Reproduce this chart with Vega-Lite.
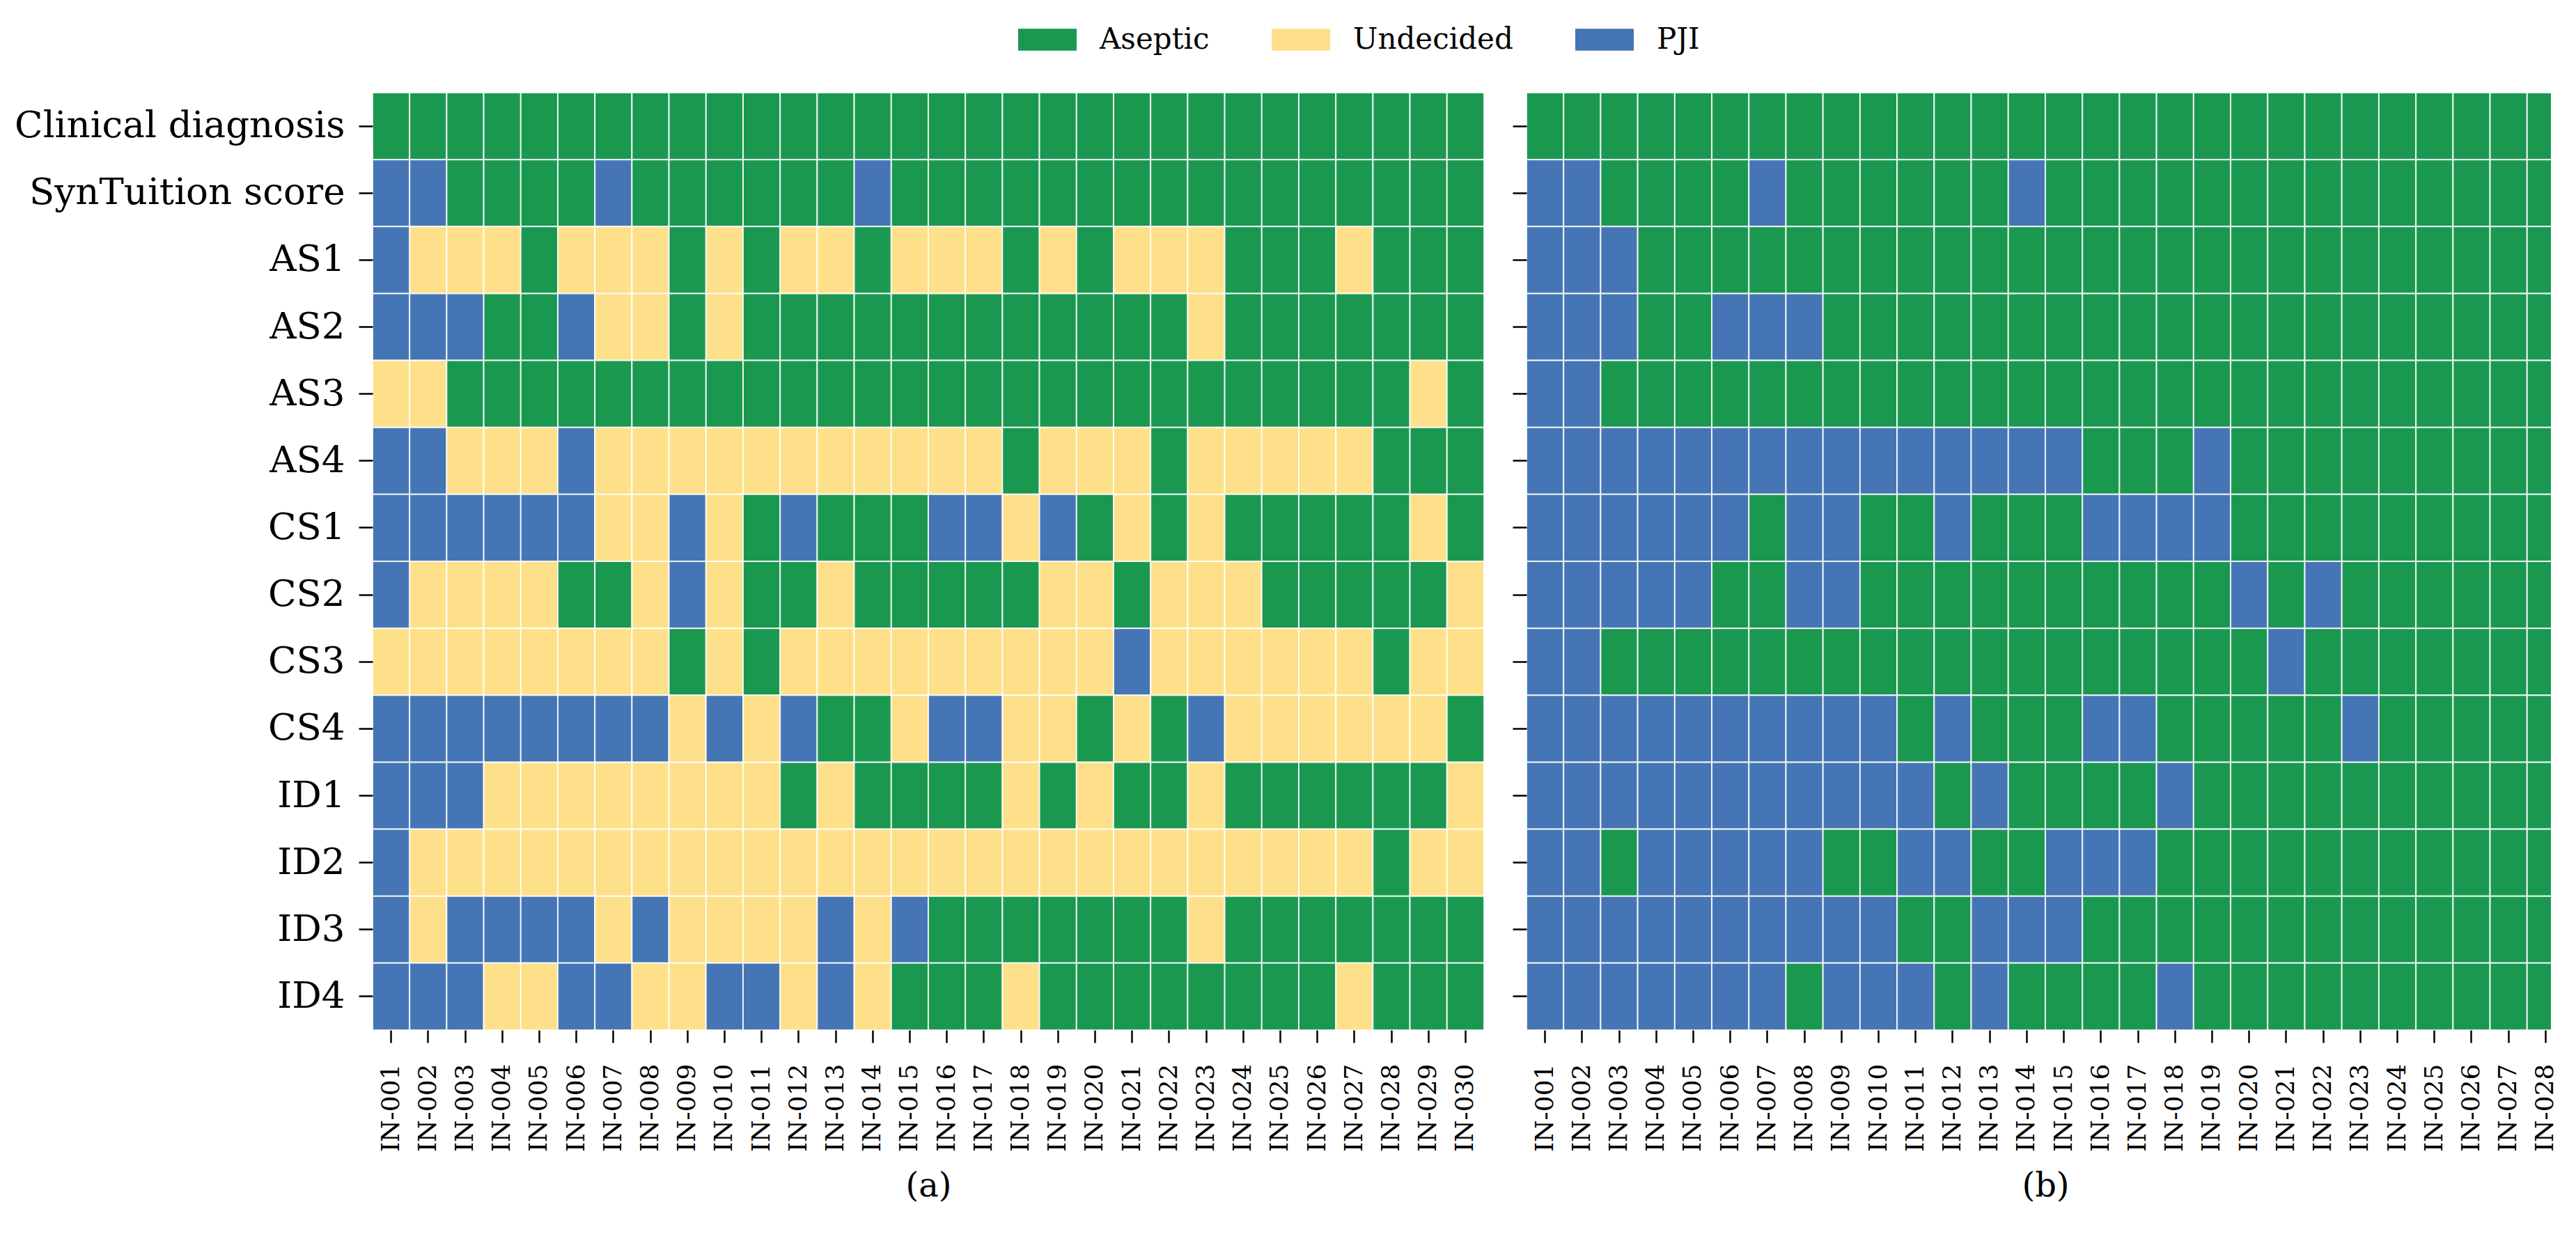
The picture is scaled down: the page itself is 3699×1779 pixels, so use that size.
{
"$schema": "https://vega.github.io/schema/vega-lite/v6.json",
"background": "white",
"padding": {"left": 20, "top": 13, "right": 0, "bottom": 0},
"spacing": 37,
"config": {
  "font": "DejaVu Serif",
  "view": {"stroke": null},
  "axis": {"domain": false, "tickColor": "black", "tickWidth": 2.5, "labelColor": "black", "labelFont": "DejaVu Serif", "titleFont": "DejaVu Serif", "titleFontWeight": "normal", "titleColor": "black", "grid": false}
},
"resolve": {"scale": {"x": "independent", "y": "independent", "color": "shared"}, "legend": {"color": "shared"}},
"datasets": {
"a": [
{"row":"Clinical diagnosis","id":"IN-001","dx":"Aseptic"},{"row":"Clinical diagnosis","id":"IN-002","dx":"Aseptic"},{"row":"Clinical diagnosis","id":"IN-003","dx":"Aseptic"},{"row":"Clinical diagnosis","id":"IN-004","dx":"Aseptic"},{"row":"Clinical diagnosis","id":"IN-005","dx":"Aseptic"},{"row":"Clinical diagnosis","id":"IN-006","dx":"Aseptic"},{"row":"Clinical diagnosis","id":"IN-007","dx":"Aseptic"},{"row":"Clinical diagnosis","id":"IN-008","dx":"Aseptic"},{"row":"Clinical diagnosis","id":"IN-009","dx":"Aseptic"},{"row":"Clinical diagnosis","id":"IN-010","dx":"Aseptic"},{"row":"Clinical diagnosis","id":"IN-011","dx":"Aseptic"},{"row":"Clinical diagnosis","id":"IN-012","dx":"Aseptic"},{"row":"Clinical diagnosis","id":"IN-013","dx":"Aseptic"},{"row":"Clinical diagnosis","id":"IN-014","dx":"Aseptic"},{"row":"Clinical diagnosis","id":"IN-015","dx":"Aseptic"},{"row":"Clinical diagnosis","id":"IN-016","dx":"Aseptic"},{"row":"Clinical diagnosis","id":"IN-017","dx":"Aseptic"},{"row":"Clinical diagnosis","id":"IN-018","dx":"Aseptic"},{"row":"Clinical diagnosis","id":"IN-019","dx":"Aseptic"},{"row":"Clinical diagnosis","id":"IN-020","dx":"Aseptic"},{"row":"Clinical diagnosis","id":"IN-021","dx":"Aseptic"},{"row":"Clinical diagnosis","id":"IN-022","dx":"Aseptic"},{"row":"Clinical diagnosis","id":"IN-023","dx":"Aseptic"},{"row":"Clinical diagnosis","id":"IN-024","dx":"Aseptic"},{"row":"Clinical diagnosis","id":"IN-025","dx":"Aseptic"},{"row":"Clinical diagnosis","id":"IN-026","dx":"Aseptic"},{"row":"Clinical diagnosis","id":"IN-027","dx":"Aseptic"},{"row":"Clinical diagnosis","id":"IN-028","dx":"Aseptic"},{"row":"Clinical diagnosis","id":"IN-029","dx":"Aseptic"},{"row":"Clinical diagnosis","id":"IN-030","dx":"Aseptic"},
{"row":"SynTuition score","id":"IN-001","dx":"PJI"},{"row":"SynTuition score","id":"IN-002","dx":"PJI"},{"row":"SynTuition score","id":"IN-003","dx":"Aseptic"},{"row":"SynTuition score","id":"IN-004","dx":"Aseptic"},{"row":"SynTuition score","id":"IN-005","dx":"Aseptic"},{"row":"SynTuition score","id":"IN-006","dx":"Aseptic"},{"row":"SynTuition score","id":"IN-007","dx":"PJI"},{"row":"SynTuition score","id":"IN-008","dx":"Aseptic"},{"row":"SynTuition score","id":"IN-009","dx":"Aseptic"},{"row":"SynTuition score","id":"IN-010","dx":"Aseptic"},{"row":"SynTuition score","id":"IN-011","dx":"Aseptic"},{"row":"SynTuition score","id":"IN-012","dx":"Aseptic"},{"row":"SynTuition score","id":"IN-013","dx":"Aseptic"},{"row":"SynTuition score","id":"IN-014","dx":"PJI"},{"row":"SynTuition score","id":"IN-015","dx":"Aseptic"},{"row":"SynTuition score","id":"IN-016","dx":"Aseptic"},{"row":"SynTuition score","id":"IN-017","dx":"Aseptic"},{"row":"SynTuition score","id":"IN-018","dx":"Aseptic"},{"row":"SynTuition score","id":"IN-019","dx":"Aseptic"},{"row":"SynTuition score","id":"IN-020","dx":"Aseptic"},{"row":"SynTuition score","id":"IN-021","dx":"Aseptic"},{"row":"SynTuition score","id":"IN-022","dx":"Aseptic"},{"row":"SynTuition score","id":"IN-023","dx":"Aseptic"},{"row":"SynTuition score","id":"IN-024","dx":"Aseptic"},{"row":"SynTuition score","id":"IN-025","dx":"Aseptic"},{"row":"SynTuition score","id":"IN-026","dx":"Aseptic"},{"row":"SynTuition score","id":"IN-027","dx":"Aseptic"},{"row":"SynTuition score","id":"IN-028","dx":"Aseptic"},{"row":"SynTuition score","id":"IN-029","dx":"Aseptic"},{"row":"SynTuition score","id":"IN-030","dx":"Aseptic"},
{"row":"AS1","id":"IN-001","dx":"PJI"},{"row":"AS1","id":"IN-002","dx":"Undecided"},{"row":"AS1","id":"IN-003","dx":"Undecided"},{"row":"AS1","id":"IN-004","dx":"Undecided"},{"row":"AS1","id":"IN-005","dx":"Aseptic"},{"row":"AS1","id":"IN-006","dx":"Undecided"},{"row":"AS1","id":"IN-007","dx":"Undecided"},{"row":"AS1","id":"IN-008","dx":"Undecided"},{"row":"AS1","id":"IN-009","dx":"Aseptic"},{"row":"AS1","id":"IN-010","dx":"Undecided"},{"row":"AS1","id":"IN-011","dx":"Aseptic"},{"row":"AS1","id":"IN-012","dx":"Undecided"},{"row":"AS1","id":"IN-013","dx":"Undecided"},{"row":"AS1","id":"IN-014","dx":"Aseptic"},{"row":"AS1","id":"IN-015","dx":"Undecided"},{"row":"AS1","id":"IN-016","dx":"Undecided"},{"row":"AS1","id":"IN-017","dx":"Undecided"},{"row":"AS1","id":"IN-018","dx":"Aseptic"},{"row":"AS1","id":"IN-019","dx":"Undecided"},{"row":"AS1","id":"IN-020","dx":"Aseptic"},{"row":"AS1","id":"IN-021","dx":"Undecided"},{"row":"AS1","id":"IN-022","dx":"Undecided"},{"row":"AS1","id":"IN-023","dx":"Undecided"},{"row":"AS1","id":"IN-024","dx":"Aseptic"},{"row":"AS1","id":"IN-025","dx":"Aseptic"},{"row":"AS1","id":"IN-026","dx":"Aseptic"},{"row":"AS1","id":"IN-027","dx":"Undecided"},{"row":"AS1","id":"IN-028","dx":"Aseptic"},{"row":"AS1","id":"IN-029","dx":"Aseptic"},{"row":"AS1","id":"IN-030","dx":"Aseptic"},
{"row":"AS2","id":"IN-001","dx":"PJI"},{"row":"AS2","id":"IN-002","dx":"PJI"},{"row":"AS2","id":"IN-003","dx":"PJI"},{"row":"AS2","id":"IN-004","dx":"Aseptic"},{"row":"AS2","id":"IN-005","dx":"Aseptic"},{"row":"AS2","id":"IN-006","dx":"PJI"},{"row":"AS2","id":"IN-007","dx":"Undecided"},{"row":"AS2","id":"IN-008","dx":"Undecided"},{"row":"AS2","id":"IN-009","dx":"Aseptic"},{"row":"AS2","id":"IN-010","dx":"Undecided"},{"row":"AS2","id":"IN-011","dx":"Aseptic"},{"row":"AS2","id":"IN-012","dx":"Aseptic"},{"row":"AS2","id":"IN-013","dx":"Aseptic"},{"row":"AS2","id":"IN-014","dx":"Aseptic"},{"row":"AS2","id":"IN-015","dx":"Aseptic"},{"row":"AS2","id":"IN-016","dx":"Aseptic"},{"row":"AS2","id":"IN-017","dx":"Aseptic"},{"row":"AS2","id":"IN-018","dx":"Aseptic"},{"row":"AS2","id":"IN-019","dx":"Aseptic"},{"row":"AS2","id":"IN-020","dx":"Aseptic"},{"row":"AS2","id":"IN-021","dx":"Aseptic"},{"row":"AS2","id":"IN-022","dx":"Aseptic"},{"row":"AS2","id":"IN-023","dx":"Undecided"},{"row":"AS2","id":"IN-024","dx":"Aseptic"},{"row":"AS2","id":"IN-025","dx":"Aseptic"},{"row":"AS2","id":"IN-026","dx":"Aseptic"},{"row":"AS2","id":"IN-027","dx":"Aseptic"},{"row":"AS2","id":"IN-028","dx":"Aseptic"},{"row":"AS2","id":"IN-029","dx":"Aseptic"},{"row":"AS2","id":"IN-030","dx":"Aseptic"},
{"row":"AS3","id":"IN-001","dx":"Undecided"},{"row":"AS3","id":"IN-002","dx":"Undecided"},{"row":"AS3","id":"IN-003","dx":"Aseptic"},{"row":"AS3","id":"IN-004","dx":"Aseptic"},{"row":"AS3","id":"IN-005","dx":"Aseptic"},{"row":"AS3","id":"IN-006","dx":"Aseptic"},{"row":"AS3","id":"IN-007","dx":"Aseptic"},{"row":"AS3","id":"IN-008","dx":"Aseptic"},{"row":"AS3","id":"IN-009","dx":"Aseptic"},{"row":"AS3","id":"IN-010","dx":"Aseptic"},{"row":"AS3","id":"IN-011","dx":"Aseptic"},{"row":"AS3","id":"IN-012","dx":"Aseptic"},{"row":"AS3","id":"IN-013","dx":"Aseptic"},{"row":"AS3","id":"IN-014","dx":"Aseptic"},{"row":"AS3","id":"IN-015","dx":"Aseptic"},{"row":"AS3","id":"IN-016","dx":"Aseptic"},{"row":"AS3","id":"IN-017","dx":"Aseptic"},{"row":"AS3","id":"IN-018","dx":"Aseptic"},{"row":"AS3","id":"IN-019","dx":"Aseptic"},{"row":"AS3","id":"IN-020","dx":"Aseptic"},{"row":"AS3","id":"IN-021","dx":"Aseptic"},{"row":"AS3","id":"IN-022","dx":"Aseptic"},{"row":"AS3","id":"IN-023","dx":"Aseptic"},{"row":"AS3","id":"IN-024","dx":"Aseptic"},{"row":"AS3","id":"IN-025","dx":"Aseptic"},{"row":"AS3","id":"IN-026","dx":"Aseptic"},{"row":"AS3","id":"IN-027","dx":"Aseptic"},{"row":"AS3","id":"IN-028","dx":"Aseptic"},{"row":"AS3","id":"IN-029","dx":"Undecided"},{"row":"AS3","id":"IN-030","dx":"Aseptic"},
{"row":"AS4","id":"IN-001","dx":"PJI"},{"row":"AS4","id":"IN-002","dx":"PJI"},{"row":"AS4","id":"IN-003","dx":"Undecided"},{"row":"AS4","id":"IN-004","dx":"Undecided"},{"row":"AS4","id":"IN-005","dx":"Undecided"},{"row":"AS4","id":"IN-006","dx":"PJI"},{"row":"AS4","id":"IN-007","dx":"Undecided"},{"row":"AS4","id":"IN-008","dx":"Undecided"},{"row":"AS4","id":"IN-009","dx":"Undecided"},{"row":"AS4","id":"IN-010","dx":"Undecided"},{"row":"AS4","id":"IN-011","dx":"Undecided"},{"row":"AS4","id":"IN-012","dx":"Undecided"},{"row":"AS4","id":"IN-013","dx":"Undecided"},{"row":"AS4","id":"IN-014","dx":"Undecided"},{"row":"AS4","id":"IN-015","dx":"Undecided"},{"row":"AS4","id":"IN-016","dx":"Undecided"},{"row":"AS4","id":"IN-017","dx":"Undecided"},{"row":"AS4","id":"IN-018","dx":"Aseptic"},{"row":"AS4","id":"IN-019","dx":"Undecided"},{"row":"AS4","id":"IN-020","dx":"Undecided"},{"row":"AS4","id":"IN-021","dx":"Undecided"},{"row":"AS4","id":"IN-022","dx":"Aseptic"},{"row":"AS4","id":"IN-023","dx":"Undecided"},{"row":"AS4","id":"IN-024","dx":"Undecided"},{"row":"AS4","id":"IN-025","dx":"Undecided"},{"row":"AS4","id":"IN-026","dx":"Undecided"},{"row":"AS4","id":"IN-027","dx":"Undecided"},{"row":"AS4","id":"IN-028","dx":"Aseptic"},{"row":"AS4","id":"IN-029","dx":"Aseptic"},{"row":"AS4","id":"IN-030","dx":"Aseptic"},
{"row":"CS1","id":"IN-001","dx":"PJI"},{"row":"CS1","id":"IN-002","dx":"PJI"},{"row":"CS1","id":"IN-003","dx":"PJI"},{"row":"CS1","id":"IN-004","dx":"PJI"},{"row":"CS1","id":"IN-005","dx":"PJI"},{"row":"CS1","id":"IN-006","dx":"PJI"},{"row":"CS1","id":"IN-007","dx":"Undecided"},{"row":"CS1","id":"IN-008","dx":"Undecided"},{"row":"CS1","id":"IN-009","dx":"PJI"},{"row":"CS1","id":"IN-010","dx":"Undecided"},{"row":"CS1","id":"IN-011","dx":"Aseptic"},{"row":"CS1","id":"IN-012","dx":"PJI"},{"row":"CS1","id":"IN-013","dx":"Aseptic"},{"row":"CS1","id":"IN-014","dx":"Aseptic"},{"row":"CS1","id":"IN-015","dx":"Aseptic"},{"row":"CS1","id":"IN-016","dx":"PJI"},{"row":"CS1","id":"IN-017","dx":"PJI"},{"row":"CS1","id":"IN-018","dx":"Undecided"},{"row":"CS1","id":"IN-019","dx":"PJI"},{"row":"CS1","id":"IN-020","dx":"Aseptic"},{"row":"CS1","id":"IN-021","dx":"Undecided"},{"row":"CS1","id":"IN-022","dx":"Aseptic"},{"row":"CS1","id":"IN-023","dx":"Undecided"},{"row":"CS1","id":"IN-024","dx":"Aseptic"},{"row":"CS1","id":"IN-025","dx":"Aseptic"},{"row":"CS1","id":"IN-026","dx":"Aseptic"},{"row":"CS1","id":"IN-027","dx":"Aseptic"},{"row":"CS1","id":"IN-028","dx":"Aseptic"},{"row":"CS1","id":"IN-029","dx":"Undecided"},{"row":"CS1","id":"IN-030","dx":"Aseptic"},
{"row":"CS2","id":"IN-001","dx":"PJI"},{"row":"CS2","id":"IN-002","dx":"Undecided"},{"row":"CS2","id":"IN-003","dx":"Undecided"},{"row":"CS2","id":"IN-004","dx":"Undecided"},{"row":"CS2","id":"IN-005","dx":"Undecided"},{"row":"CS2","id":"IN-006","dx":"Aseptic"},{"row":"CS2","id":"IN-007","dx":"Aseptic"},{"row":"CS2","id":"IN-008","dx":"Undecided"},{"row":"CS2","id":"IN-009","dx":"PJI"},{"row":"CS2","id":"IN-010","dx":"Undecided"},{"row":"CS2","id":"IN-011","dx":"Aseptic"},{"row":"CS2","id":"IN-012","dx":"Aseptic"},{"row":"CS2","id":"IN-013","dx":"Undecided"},{"row":"CS2","id":"IN-014","dx":"Aseptic"},{"row":"CS2","id":"IN-015","dx":"Aseptic"},{"row":"CS2","id":"IN-016","dx":"Aseptic"},{"row":"CS2","id":"IN-017","dx":"Aseptic"},{"row":"CS2","id":"IN-018","dx":"Aseptic"},{"row":"CS2","id":"IN-019","dx":"Undecided"},{"row":"CS2","id":"IN-020","dx":"Undecided"},{"row":"CS2","id":"IN-021","dx":"Aseptic"},{"row":"CS2","id":"IN-022","dx":"Undecided"},{"row":"CS2","id":"IN-023","dx":"Undecided"},{"row":"CS2","id":"IN-024","dx":"Undecided"},{"row":"CS2","id":"IN-025","dx":"Aseptic"},{"row":"CS2","id":"IN-026","dx":"Aseptic"},{"row":"CS2","id":"IN-027","dx":"Aseptic"},{"row":"CS2","id":"IN-028","dx":"Aseptic"},{"row":"CS2","id":"IN-029","dx":"Aseptic"},{"row":"CS2","id":"IN-030","dx":"Undecided"},
{"row":"CS3","id":"IN-001","dx":"Undecided"},{"row":"CS3","id":"IN-002","dx":"Undecided"},{"row":"CS3","id":"IN-003","dx":"Undecided"},{"row":"CS3","id":"IN-004","dx":"Undecided"},{"row":"CS3","id":"IN-005","dx":"Undecided"},{"row":"CS3","id":"IN-006","dx":"Undecided"},{"row":"CS3","id":"IN-007","dx":"Undecided"},{"row":"CS3","id":"IN-008","dx":"Undecided"},{"row":"CS3","id":"IN-009","dx":"Aseptic"},{"row":"CS3","id":"IN-010","dx":"Undecided"},{"row":"CS3","id":"IN-011","dx":"Aseptic"},{"row":"CS3","id":"IN-012","dx":"Undecided"},{"row":"CS3","id":"IN-013","dx":"Undecided"},{"row":"CS3","id":"IN-014","dx":"Undecided"},{"row":"CS3","id":"IN-015","dx":"Undecided"},{"row":"CS3","id":"IN-016","dx":"Undecided"},{"row":"CS3","id":"IN-017","dx":"Undecided"},{"row":"CS3","id":"IN-018","dx":"Undecided"},{"row":"CS3","id":"IN-019","dx":"Undecided"},{"row":"CS3","id":"IN-020","dx":"Undecided"},{"row":"CS3","id":"IN-021","dx":"PJI"},{"row":"CS3","id":"IN-022","dx":"Undecided"},{"row":"CS3","id":"IN-023","dx":"Undecided"},{"row":"CS3","id":"IN-024","dx":"Undecided"},{"row":"CS3","id":"IN-025","dx":"Undecided"},{"row":"CS3","id":"IN-026","dx":"Undecided"},{"row":"CS3","id":"IN-027","dx":"Undecided"},{"row":"CS3","id":"IN-028","dx":"Aseptic"},{"row":"CS3","id":"IN-029","dx":"Undecided"},{"row":"CS3","id":"IN-030","dx":"Undecided"},
{"row":"CS4","id":"IN-001","dx":"PJI"},{"row":"CS4","id":"IN-002","dx":"PJI"},{"row":"CS4","id":"IN-003","dx":"PJI"},{"row":"CS4","id":"IN-004","dx":"PJI"},{"row":"CS4","id":"IN-005","dx":"PJI"},{"row":"CS4","id":"IN-006","dx":"PJI"},{"row":"CS4","id":"IN-007","dx":"PJI"},{"row":"CS4","id":"IN-008","dx":"PJI"},{"row":"CS4","id":"IN-009","dx":"Undecided"},{"row":"CS4","id":"IN-010","dx":"PJI"},{"row":"CS4","id":"IN-011","dx":"Undecided"},{"row":"CS4","id":"IN-012","dx":"PJI"},{"row":"CS4","id":"IN-013","dx":"Aseptic"},{"row":"CS4","id":"IN-014","dx":"Aseptic"},{"row":"CS4","id":"IN-015","dx":"Undecided"},{"row":"CS4","id":"IN-016","dx":"PJI"},{"row":"CS4","id":"IN-017","dx":"PJI"},{"row":"CS4","id":"IN-018","dx":"Undecided"},{"row":"CS4","id":"IN-019","dx":"Undecided"},{"row":"CS4","id":"IN-020","dx":"Aseptic"},{"row":"CS4","id":"IN-021","dx":"Undecided"},{"row":"CS4","id":"IN-022","dx":"Aseptic"},{"row":"CS4","id":"IN-023","dx":"PJI"},{"row":"CS4","id":"IN-024","dx":"Undecided"},{"row":"CS4","id":"IN-025","dx":"Undecided"},{"row":"CS4","id":"IN-026","dx":"Undecided"},{"row":"CS4","id":"IN-027","dx":"Undecided"},{"row":"CS4","id":"IN-028","dx":"Undecided"},{"row":"CS4","id":"IN-029","dx":"Undecided"},{"row":"CS4","id":"IN-030","dx":"Aseptic"},
{"row":"ID1","id":"IN-001","dx":"PJI"},{"row":"ID1","id":"IN-002","dx":"PJI"},{"row":"ID1","id":"IN-003","dx":"PJI"},{"row":"ID1","id":"IN-004","dx":"Undecided"},{"row":"ID1","id":"IN-005","dx":"Undecided"},{"row":"ID1","id":"IN-006","dx":"Undecided"},{"row":"ID1","id":"IN-007","dx":"Undecided"},{"row":"ID1","id":"IN-008","dx":"Undecided"},{"row":"ID1","id":"IN-009","dx":"Undecided"},{"row":"ID1","id":"IN-010","dx":"Undecided"},{"row":"ID1","id":"IN-011","dx":"Undecided"},{"row":"ID1","id":"IN-012","dx":"Aseptic"},{"row":"ID1","id":"IN-013","dx":"Undecided"},{"row":"ID1","id":"IN-014","dx":"Aseptic"},{"row":"ID1","id":"IN-015","dx":"Aseptic"},{"row":"ID1","id":"IN-016","dx":"Aseptic"},{"row":"ID1","id":"IN-017","dx":"Aseptic"},{"row":"ID1","id":"IN-018","dx":"Undecided"},{"row":"ID1","id":"IN-019","dx":"Aseptic"},{"row":"ID1","id":"IN-020","dx":"Undecided"},{"row":"ID1","id":"IN-021","dx":"Aseptic"},{"row":"ID1","id":"IN-022","dx":"Aseptic"},{"row":"ID1","id":"IN-023","dx":"Undecided"},{"row":"ID1","id":"IN-024","dx":"Aseptic"},{"row":"ID1","id":"IN-025","dx":"Aseptic"},{"row":"ID1","id":"IN-026","dx":"Aseptic"},{"row":"ID1","id":"IN-027","dx":"Aseptic"},{"row":"ID1","id":"IN-028","dx":"Aseptic"},{"row":"ID1","id":"IN-029","dx":"Aseptic"},{"row":"ID1","id":"IN-030","dx":"Undecided"},
{"row":"ID2","id":"IN-001","dx":"PJI"},{"row":"ID2","id":"IN-002","dx":"Undecided"},{"row":"ID2","id":"IN-003","dx":"Undecided"},{"row":"ID2","id":"IN-004","dx":"Undecided"},{"row":"ID2","id":"IN-005","dx":"Undecided"},{"row":"ID2","id":"IN-006","dx":"Undecided"},{"row":"ID2","id":"IN-007","dx":"Undecided"},{"row":"ID2","id":"IN-008","dx":"Undecided"},{"row":"ID2","id":"IN-009","dx":"Undecided"},{"row":"ID2","id":"IN-010","dx":"Undecided"},{"row":"ID2","id":"IN-011","dx":"Undecided"},{"row":"ID2","id":"IN-012","dx":"Undecided"},{"row":"ID2","id":"IN-013","dx":"Undecided"},{"row":"ID2","id":"IN-014","dx":"Undecided"},{"row":"ID2","id":"IN-015","dx":"Undecided"},{"row":"ID2","id":"IN-016","dx":"Undecided"},{"row":"ID2","id":"IN-017","dx":"Undecided"},{"row":"ID2","id":"IN-018","dx":"Undecided"},{"row":"ID2","id":"IN-019","dx":"Undecided"},{"row":"ID2","id":"IN-020","dx":"Undecided"},{"row":"ID2","id":"IN-021","dx":"Undecided"},{"row":"ID2","id":"IN-022","dx":"Undecided"},{"row":"ID2","id":"IN-023","dx":"Undecided"},{"row":"ID2","id":"IN-024","dx":"Undecided"},{"row":"ID2","id":"IN-025","dx":"Undecided"},{"row":"ID2","id":"IN-026","dx":"Undecided"},{"row":"ID2","id":"IN-027","dx":"Undecided"},{"row":"ID2","id":"IN-028","dx":"Aseptic"},{"row":"ID2","id":"IN-029","dx":"Undecided"},{"row":"ID2","id":"IN-030","dx":"Undecided"},
{"row":"ID3","id":"IN-001","dx":"PJI"},{"row":"ID3","id":"IN-002","dx":"Undecided"},{"row":"ID3","id":"IN-003","dx":"PJI"},{"row":"ID3","id":"IN-004","dx":"PJI"},{"row":"ID3","id":"IN-005","dx":"PJI"},{"row":"ID3","id":"IN-006","dx":"PJI"},{"row":"ID3","id":"IN-007","dx":"Undecided"},{"row":"ID3","id":"IN-008","dx":"PJI"},{"row":"ID3","id":"IN-009","dx":"Undecided"},{"row":"ID3","id":"IN-010","dx":"Undecided"},{"row":"ID3","id":"IN-011","dx":"Undecided"},{"row":"ID3","id":"IN-012","dx":"Undecided"},{"row":"ID3","id":"IN-013","dx":"PJI"},{"row":"ID3","id":"IN-014","dx":"Undecided"},{"row":"ID3","id":"IN-015","dx":"PJI"},{"row":"ID3","id":"IN-016","dx":"Aseptic"},{"row":"ID3","id":"IN-017","dx":"Aseptic"},{"row":"ID3","id":"IN-018","dx":"Aseptic"},{"row":"ID3","id":"IN-019","dx":"Aseptic"},{"row":"ID3","id":"IN-020","dx":"Aseptic"},{"row":"ID3","id":"IN-021","dx":"Aseptic"},{"row":"ID3","id":"IN-022","dx":"Aseptic"},{"row":"ID3","id":"IN-023","dx":"Undecided"},{"row":"ID3","id":"IN-024","dx":"Aseptic"},{"row":"ID3","id":"IN-025","dx":"Aseptic"},{"row":"ID3","id":"IN-026","dx":"Aseptic"},{"row":"ID3","id":"IN-027","dx":"Aseptic"},{"row":"ID3","id":"IN-028","dx":"Aseptic"},{"row":"ID3","id":"IN-029","dx":"Aseptic"},{"row":"ID3","id":"IN-030","dx":"Aseptic"},
{"row":"ID4","id":"IN-001","dx":"PJI"},{"row":"ID4","id":"IN-002","dx":"PJI"},{"row":"ID4","id":"IN-003","dx":"PJI"},{"row":"ID4","id":"IN-004","dx":"Undecided"},{"row":"ID4","id":"IN-005","dx":"Undecided"},{"row":"ID4","id":"IN-006","dx":"PJI"},{"row":"ID4","id":"IN-007","dx":"PJI"},{"row":"ID4","id":"IN-008","dx":"Undecided"},{"row":"ID4","id":"IN-009","dx":"Undecided"},{"row":"ID4","id":"IN-010","dx":"PJI"},{"row":"ID4","id":"IN-011","dx":"PJI"},{"row":"ID4","id":"IN-012","dx":"Undecided"},{"row":"ID4","id":"IN-013","dx":"PJI"},{"row":"ID4","id":"IN-014","dx":"Undecided"},{"row":"ID4","id":"IN-015","dx":"Aseptic"},{"row":"ID4","id":"IN-016","dx":"Aseptic"},{"row":"ID4","id":"IN-017","dx":"Aseptic"},{"row":"ID4","id":"IN-018","dx":"Undecided"},{"row":"ID4","id":"IN-019","dx":"Aseptic"},{"row":"ID4","id":"IN-020","dx":"Aseptic"},{"row":"ID4","id":"IN-021","dx":"Aseptic"},{"row":"ID4","id":"IN-022","dx":"Aseptic"},{"row":"ID4","id":"IN-023","dx":"Aseptic"},{"row":"ID4","id":"IN-024","dx":"Aseptic"},{"row":"ID4","id":"IN-025","dx":"Aseptic"},{"row":"ID4","id":"IN-026","dx":"Aseptic"},{"row":"ID4","id":"IN-027","dx":"Undecided"},{"row":"ID4","id":"IN-028","dx":"Aseptic"},{"row":"ID4","id":"IN-029","dx":"Aseptic"},{"row":"ID4","id":"IN-030","dx":"Aseptic"}
],
"b": [
{"row":"Clinical diagnosis","id":"IN-001","dx":"Aseptic"},{"row":"Clinical diagnosis","id":"IN-002","dx":"Aseptic"},{"row":"Clinical diagnosis","id":"IN-003","dx":"Aseptic"},{"row":"Clinical diagnosis","id":"IN-004","dx":"Aseptic"},{"row":"Clinical diagnosis","id":"IN-005","dx":"Aseptic"},{"row":"Clinical diagnosis","id":"IN-006","dx":"Aseptic"},{"row":"Clinical diagnosis","id":"IN-007","dx":"Aseptic"},{"row":"Clinical diagnosis","id":"IN-008","dx":"Aseptic"},{"row":"Clinical diagnosis","id":"IN-009","dx":"Aseptic"},{"row":"Clinical diagnosis","id":"IN-010","dx":"Aseptic"},{"row":"Clinical diagnosis","id":"IN-011","dx":"Aseptic"},{"row":"Clinical diagnosis","id":"IN-012","dx":"Aseptic"},{"row":"Clinical diagnosis","id":"IN-013","dx":"Aseptic"},{"row":"Clinical diagnosis","id":"IN-014","dx":"Aseptic"},{"row":"Clinical diagnosis","id":"IN-015","dx":"Aseptic"},{"row":"Clinical diagnosis","id":"IN-016","dx":"Aseptic"},{"row":"Clinical diagnosis","id":"IN-017","dx":"Aseptic"},{"row":"Clinical diagnosis","id":"IN-018","dx":"Aseptic"},{"row":"Clinical diagnosis","id":"IN-019","dx":"Aseptic"},{"row":"Clinical diagnosis","id":"IN-020","dx":"Aseptic"},{"row":"Clinical diagnosis","id":"IN-021","dx":"Aseptic"},{"row":"Clinical diagnosis","id":"IN-022","dx":"Aseptic"},{"row":"Clinical diagnosis","id":"IN-023","dx":"Aseptic"},{"row":"Clinical diagnosis","id":"IN-024","dx":"Aseptic"},{"row":"Clinical diagnosis","id":"IN-025","dx":"Aseptic"},{"row":"Clinical diagnosis","id":"IN-026","dx":"Aseptic"},{"row":"Clinical diagnosis","id":"IN-027","dx":"Aseptic"},{"row":"Clinical diagnosis","id":"IN-028","dx":"Aseptic"},
{"row":"SynTuition score","id":"IN-001","dx":"PJI"},{"row":"SynTuition score","id":"IN-002","dx":"PJI"},{"row":"SynTuition score","id":"IN-003","dx":"Aseptic"},{"row":"SynTuition score","id":"IN-004","dx":"Aseptic"},{"row":"SynTuition score","id":"IN-005","dx":"Aseptic"},{"row":"SynTuition score","id":"IN-006","dx":"Aseptic"},{"row":"SynTuition score","id":"IN-007","dx":"PJI"},{"row":"SynTuition score","id":"IN-008","dx":"Aseptic"},{"row":"SynTuition score","id":"IN-009","dx":"Aseptic"},{"row":"SynTuition score","id":"IN-010","dx":"Aseptic"},{"row":"SynTuition score","id":"IN-011","dx":"Aseptic"},{"row":"SynTuition score","id":"IN-012","dx":"Aseptic"},{"row":"SynTuition score","id":"IN-013","dx":"Aseptic"},{"row":"SynTuition score","id":"IN-014","dx":"PJI"},{"row":"SynTuition score","id":"IN-015","dx":"Aseptic"},{"row":"SynTuition score","id":"IN-016","dx":"Aseptic"},{"row":"SynTuition score","id":"IN-017","dx":"Aseptic"},{"row":"SynTuition score","id":"IN-018","dx":"Aseptic"},{"row":"SynTuition score","id":"IN-019","dx":"Aseptic"},{"row":"SynTuition score","id":"IN-020","dx":"Aseptic"},{"row":"SynTuition score","id":"IN-021","dx":"Aseptic"},{"row":"SynTuition score","id":"IN-022","dx":"Aseptic"},{"row":"SynTuition score","id":"IN-023","dx":"Aseptic"},{"row":"SynTuition score","id":"IN-024","dx":"Aseptic"},{"row":"SynTuition score","id":"IN-025","dx":"Aseptic"},{"row":"SynTuition score","id":"IN-026","dx":"Aseptic"},{"row":"SynTuition score","id":"IN-027","dx":"Aseptic"},{"row":"SynTuition score","id":"IN-028","dx":"Aseptic"},
{"row":"AS1","id":"IN-001","dx":"PJI"},{"row":"AS1","id":"IN-002","dx":"PJI"},{"row":"AS1","id":"IN-003","dx":"PJI"},{"row":"AS1","id":"IN-004","dx":"Aseptic"},{"row":"AS1","id":"IN-005","dx":"Aseptic"},{"row":"AS1","id":"IN-006","dx":"Aseptic"},{"row":"AS1","id":"IN-007","dx":"Aseptic"},{"row":"AS1","id":"IN-008","dx":"Aseptic"},{"row":"AS1","id":"IN-009","dx":"Aseptic"},{"row":"AS1","id":"IN-010","dx":"Aseptic"},{"row":"AS1","id":"IN-011","dx":"Aseptic"},{"row":"AS1","id":"IN-012","dx":"Aseptic"},{"row":"AS1","id":"IN-013","dx":"Aseptic"},{"row":"AS1","id":"IN-014","dx":"Aseptic"},{"row":"AS1","id":"IN-015","dx":"Aseptic"},{"row":"AS1","id":"IN-016","dx":"Aseptic"},{"row":"AS1","id":"IN-017","dx":"Aseptic"},{"row":"AS1","id":"IN-018","dx":"Aseptic"},{"row":"AS1","id":"IN-019","dx":"Aseptic"},{"row":"AS1","id":"IN-020","dx":"Aseptic"},{"row":"AS1","id":"IN-021","dx":"Aseptic"},{"row":"AS1","id":"IN-022","dx":"Aseptic"},{"row":"AS1","id":"IN-023","dx":"Aseptic"},{"row":"AS1","id":"IN-024","dx":"Aseptic"},{"row":"AS1","id":"IN-025","dx":"Aseptic"},{"row":"AS1","id":"IN-026","dx":"Aseptic"},{"row":"AS1","id":"IN-027","dx":"Aseptic"},{"row":"AS1","id":"IN-028","dx":"Aseptic"},
{"row":"AS2","id":"IN-001","dx":"PJI"},{"row":"AS2","id":"IN-002","dx":"PJI"},{"row":"AS2","id":"IN-003","dx":"PJI"},{"row":"AS2","id":"IN-004","dx":"Aseptic"},{"row":"AS2","id":"IN-005","dx":"Aseptic"},{"row":"AS2","id":"IN-006","dx":"PJI"},{"row":"AS2","id":"IN-007","dx":"PJI"},{"row":"AS2","id":"IN-008","dx":"PJI"},{"row":"AS2","id":"IN-009","dx":"Aseptic"},{"row":"AS2","id":"IN-010","dx":"Aseptic"},{"row":"AS2","id":"IN-011","dx":"Aseptic"},{"row":"AS2","id":"IN-012","dx":"Aseptic"},{"row":"AS2","id":"IN-013","dx":"Aseptic"},{"row":"AS2","id":"IN-014","dx":"Aseptic"},{"row":"AS2","id":"IN-015","dx":"Aseptic"},{"row":"AS2","id":"IN-016","dx":"Aseptic"},{"row":"AS2","id":"IN-017","dx":"Aseptic"},{"row":"AS2","id":"IN-018","dx":"Aseptic"},{"row":"AS2","id":"IN-019","dx":"Aseptic"},{"row":"AS2","id":"IN-020","dx":"Aseptic"},{"row":"AS2","id":"IN-021","dx":"Aseptic"},{"row":"AS2","id":"IN-022","dx":"Aseptic"},{"row":"AS2","id":"IN-023","dx":"Aseptic"},{"row":"AS2","id":"IN-024","dx":"Aseptic"},{"row":"AS2","id":"IN-025","dx":"Aseptic"},{"row":"AS2","id":"IN-026","dx":"Aseptic"},{"row":"AS2","id":"IN-027","dx":"Aseptic"},{"row":"AS2","id":"IN-028","dx":"Aseptic"},
{"row":"AS3","id":"IN-001","dx":"PJI"},{"row":"AS3","id":"IN-002","dx":"PJI"},{"row":"AS3","id":"IN-003","dx":"Aseptic"},{"row":"AS3","id":"IN-004","dx":"Aseptic"},{"row":"AS3","id":"IN-005","dx":"Aseptic"},{"row":"AS3","id":"IN-006","dx":"Aseptic"},{"row":"AS3","id":"IN-007","dx":"Aseptic"},{"row":"AS3","id":"IN-008","dx":"Aseptic"},{"row":"AS3","id":"IN-009","dx":"Aseptic"},{"row":"AS3","id":"IN-010","dx":"Aseptic"},{"row":"AS3","id":"IN-011","dx":"Aseptic"},{"row":"AS3","id":"IN-012","dx":"Aseptic"},{"row":"AS3","id":"IN-013","dx":"Aseptic"},{"row":"AS3","id":"IN-014","dx":"Aseptic"},{"row":"AS3","id":"IN-015","dx":"Aseptic"},{"row":"AS3","id":"IN-016","dx":"Aseptic"},{"row":"AS3","id":"IN-017","dx":"Aseptic"},{"row":"AS3","id":"IN-018","dx":"Aseptic"},{"row":"AS3","id":"IN-019","dx":"Aseptic"},{"row":"AS3","id":"IN-020","dx":"Aseptic"},{"row":"AS3","id":"IN-021","dx":"Aseptic"},{"row":"AS3","id":"IN-022","dx":"Aseptic"},{"row":"AS3","id":"IN-023","dx":"Aseptic"},{"row":"AS3","id":"IN-024","dx":"Aseptic"},{"row":"AS3","id":"IN-025","dx":"Aseptic"},{"row":"AS3","id":"IN-026","dx":"Aseptic"},{"row":"AS3","id":"IN-027","dx":"Aseptic"},{"row":"AS3","id":"IN-028","dx":"Aseptic"},
{"row":"AS4","id":"IN-001","dx":"PJI"},{"row":"AS4","id":"IN-002","dx":"PJI"},{"row":"AS4","id":"IN-003","dx":"PJI"},{"row":"AS4","id":"IN-004","dx":"PJI"},{"row":"AS4","id":"IN-005","dx":"PJI"},{"row":"AS4","id":"IN-006","dx":"PJI"},{"row":"AS4","id":"IN-007","dx":"PJI"},{"row":"AS4","id":"IN-008","dx":"PJI"},{"row":"AS4","id":"IN-009","dx":"PJI"},{"row":"AS4","id":"IN-010","dx":"PJI"},{"row":"AS4","id":"IN-011","dx":"PJI"},{"row":"AS4","id":"IN-012","dx":"PJI"},{"row":"AS4","id":"IN-013","dx":"PJI"},{"row":"AS4","id":"IN-014","dx":"PJI"},{"row":"AS4","id":"IN-015","dx":"PJI"},{"row":"AS4","id":"IN-016","dx":"Aseptic"},{"row":"AS4","id":"IN-017","dx":"Aseptic"},{"row":"AS4","id":"IN-018","dx":"Aseptic"},{"row":"AS4","id":"IN-019","dx":"PJI"},{"row":"AS4","id":"IN-020","dx":"Aseptic"},{"row":"AS4","id":"IN-021","dx":"Aseptic"},{"row":"AS4","id":"IN-022","dx":"Aseptic"},{"row":"AS4","id":"IN-023","dx":"Aseptic"},{"row":"AS4","id":"IN-024","dx":"Aseptic"},{"row":"AS4","id":"IN-025","dx":"Aseptic"},{"row":"AS4","id":"IN-026","dx":"Aseptic"},{"row":"AS4","id":"IN-027","dx":"Aseptic"},{"row":"AS4","id":"IN-028","dx":"Aseptic"},
{"row":"CS1","id":"IN-001","dx":"PJI"},{"row":"CS1","id":"IN-002","dx":"PJI"},{"row":"CS1","id":"IN-003","dx":"PJI"},{"row":"CS1","id":"IN-004","dx":"PJI"},{"row":"CS1","id":"IN-005","dx":"PJI"},{"row":"CS1","id":"IN-006","dx":"PJI"},{"row":"CS1","id":"IN-007","dx":"Aseptic"},{"row":"CS1","id":"IN-008","dx":"PJI"},{"row":"CS1","id":"IN-009","dx":"PJI"},{"row":"CS1","id":"IN-010","dx":"Aseptic"},{"row":"CS1","id":"IN-011","dx":"Aseptic"},{"row":"CS1","id":"IN-012","dx":"PJI"},{"row":"CS1","id":"IN-013","dx":"Aseptic"},{"row":"CS1","id":"IN-014","dx":"Aseptic"},{"row":"CS1","id":"IN-015","dx":"Aseptic"},{"row":"CS1","id":"IN-016","dx":"PJI"},{"row":"CS1","id":"IN-017","dx":"PJI"},{"row":"CS1","id":"IN-018","dx":"PJI"},{"row":"CS1","id":"IN-019","dx":"PJI"},{"row":"CS1","id":"IN-020","dx":"Aseptic"},{"row":"CS1","id":"IN-021","dx":"Aseptic"},{"row":"CS1","id":"IN-022","dx":"Aseptic"},{"row":"CS1","id":"IN-023","dx":"Aseptic"},{"row":"CS1","id":"IN-024","dx":"Aseptic"},{"row":"CS1","id":"IN-025","dx":"Aseptic"},{"row":"CS1","id":"IN-026","dx":"Aseptic"},{"row":"CS1","id":"IN-027","dx":"Aseptic"},{"row":"CS1","id":"IN-028","dx":"Aseptic"},
{"row":"CS2","id":"IN-001","dx":"PJI"},{"row":"CS2","id":"IN-002","dx":"PJI"},{"row":"CS2","id":"IN-003","dx":"PJI"},{"row":"CS2","id":"IN-004","dx":"PJI"},{"row":"CS2","id":"IN-005","dx":"PJI"},{"row":"CS2","id":"IN-006","dx":"Aseptic"},{"row":"CS2","id":"IN-007","dx":"Aseptic"},{"row":"CS2","id":"IN-008","dx":"PJI"},{"row":"CS2","id":"IN-009","dx":"PJI"},{"row":"CS2","id":"IN-010","dx":"Aseptic"},{"row":"CS2","id":"IN-011","dx":"Aseptic"},{"row":"CS2","id":"IN-012","dx":"Aseptic"},{"row":"CS2","id":"IN-013","dx":"Aseptic"},{"row":"CS2","id":"IN-014","dx":"Aseptic"},{"row":"CS2","id":"IN-015","dx":"Aseptic"},{"row":"CS2","id":"IN-016","dx":"Aseptic"},{"row":"CS2","id":"IN-017","dx":"Aseptic"},{"row":"CS2","id":"IN-018","dx":"Aseptic"},{"row":"CS2","id":"IN-019","dx":"Aseptic"},{"row":"CS2","id":"IN-020","dx":"PJI"},{"row":"CS2","id":"IN-021","dx":"Aseptic"},{"row":"CS2","id":"IN-022","dx":"PJI"},{"row":"CS2","id":"IN-023","dx":"Aseptic"},{"row":"CS2","id":"IN-024","dx":"Aseptic"},{"row":"CS2","id":"IN-025","dx":"Aseptic"},{"row":"CS2","id":"IN-026","dx":"Aseptic"},{"row":"CS2","id":"IN-027","dx":"Aseptic"},{"row":"CS2","id":"IN-028","dx":"Aseptic"},
{"row":"CS3","id":"IN-001","dx":"PJI"},{"row":"CS3","id":"IN-002","dx":"PJI"},{"row":"CS3","id":"IN-003","dx":"Aseptic"},{"row":"CS3","id":"IN-004","dx":"Aseptic"},{"row":"CS3","id":"IN-005","dx":"Aseptic"},{"row":"CS3","id":"IN-006","dx":"Aseptic"},{"row":"CS3","id":"IN-007","dx":"Aseptic"},{"row":"CS3","id":"IN-008","dx":"Aseptic"},{"row":"CS3","id":"IN-009","dx":"Aseptic"},{"row":"CS3","id":"IN-010","dx":"Aseptic"},{"row":"CS3","id":"IN-011","dx":"Aseptic"},{"row":"CS3","id":"IN-012","dx":"Aseptic"},{"row":"CS3","id":"IN-013","dx":"Aseptic"},{"row":"CS3","id":"IN-014","dx":"Aseptic"},{"row":"CS3","id":"IN-015","dx":"Aseptic"},{"row":"CS3","id":"IN-016","dx":"Aseptic"},{"row":"CS3","id":"IN-017","dx":"Aseptic"},{"row":"CS3","id":"IN-018","dx":"Aseptic"},{"row":"CS3","id":"IN-019","dx":"Aseptic"},{"row":"CS3","id":"IN-020","dx":"Aseptic"},{"row":"CS3","id":"IN-021","dx":"PJI"},{"row":"CS3","id":"IN-022","dx":"Aseptic"},{"row":"CS3","id":"IN-023","dx":"Aseptic"},{"row":"CS3","id":"IN-024","dx":"Aseptic"},{"row":"CS3","id":"IN-025","dx":"Aseptic"},{"row":"CS3","id":"IN-026","dx":"Aseptic"},{"row":"CS3","id":"IN-027","dx":"Aseptic"},{"row":"CS3","id":"IN-028","dx":"Aseptic"},
{"row":"CS4","id":"IN-001","dx":"PJI"},{"row":"CS4","id":"IN-002","dx":"PJI"},{"row":"CS4","id":"IN-003","dx":"PJI"},{"row":"CS4","id":"IN-004","dx":"PJI"},{"row":"CS4","id":"IN-005","dx":"PJI"},{"row":"CS4","id":"IN-006","dx":"PJI"},{"row":"CS4","id":"IN-007","dx":"PJI"},{"row":"CS4","id":"IN-008","dx":"PJI"},{"row":"CS4","id":"IN-009","dx":"PJI"},{"row":"CS4","id":"IN-010","dx":"PJI"},{"row":"CS4","id":"IN-011","dx":"Aseptic"},{"row":"CS4","id":"IN-012","dx":"PJI"},{"row":"CS4","id":"IN-013","dx":"Aseptic"},{"row":"CS4","id":"IN-014","dx":"Aseptic"},{"row":"CS4","id":"IN-015","dx":"Aseptic"},{"row":"CS4","id":"IN-016","dx":"PJI"},{"row":"CS4","id":"IN-017","dx":"PJI"},{"row":"CS4","id":"IN-018","dx":"Aseptic"},{"row":"CS4","id":"IN-019","dx":"Aseptic"},{"row":"CS4","id":"IN-020","dx":"Aseptic"},{"row":"CS4","id":"IN-021","dx":"Aseptic"},{"row":"CS4","id":"IN-022","dx":"Aseptic"},{"row":"CS4","id":"IN-023","dx":"PJI"},{"row":"CS4","id":"IN-024","dx":"Aseptic"},{"row":"CS4","id":"IN-025","dx":"Aseptic"},{"row":"CS4","id":"IN-026","dx":"Aseptic"},{"row":"CS4","id":"IN-027","dx":"Aseptic"},{"row":"CS4","id":"IN-028","dx":"Aseptic"},
{"row":"ID1","id":"IN-001","dx":"PJI"},{"row":"ID1","id":"IN-002","dx":"PJI"},{"row":"ID1","id":"IN-003","dx":"PJI"},{"row":"ID1","id":"IN-004","dx":"PJI"},{"row":"ID1","id":"IN-005","dx":"PJI"},{"row":"ID1","id":"IN-006","dx":"PJI"},{"row":"ID1","id":"IN-007","dx":"PJI"},{"row":"ID1","id":"IN-008","dx":"PJI"},{"row":"ID1","id":"IN-009","dx":"PJI"},{"row":"ID1","id":"IN-010","dx":"PJI"},{"row":"ID1","id":"IN-011","dx":"PJI"},{"row":"ID1","id":"IN-012","dx":"Aseptic"},{"row":"ID1","id":"IN-013","dx":"PJI"},{"row":"ID1","id":"IN-014","dx":"Aseptic"},{"row":"ID1","id":"IN-015","dx":"Aseptic"},{"row":"ID1","id":"IN-016","dx":"Aseptic"},{"row":"ID1","id":"IN-017","dx":"Aseptic"},{"row":"ID1","id":"IN-018","dx":"PJI"},{"row":"ID1","id":"IN-019","dx":"Aseptic"},{"row":"ID1","id":"IN-020","dx":"Aseptic"},{"row":"ID1","id":"IN-021","dx":"Aseptic"},{"row":"ID1","id":"IN-022","dx":"Aseptic"},{"row":"ID1","id":"IN-023","dx":"Aseptic"},{"row":"ID1","id":"IN-024","dx":"Aseptic"},{"row":"ID1","id":"IN-025","dx":"Aseptic"},{"row":"ID1","id":"IN-026","dx":"Aseptic"},{"row":"ID1","id":"IN-027","dx":"Aseptic"},{"row":"ID1","id":"IN-028","dx":"Aseptic"},
{"row":"ID2","id":"IN-001","dx":"PJI"},{"row":"ID2","id":"IN-002","dx":"PJI"},{"row":"ID2","id":"IN-003","dx":"Aseptic"},{"row":"ID2","id":"IN-004","dx":"PJI"},{"row":"ID2","id":"IN-005","dx":"PJI"},{"row":"ID2","id":"IN-006","dx":"PJI"},{"row":"ID2","id":"IN-007","dx":"PJI"},{"row":"ID2","id":"IN-008","dx":"PJI"},{"row":"ID2","id":"IN-009","dx":"Aseptic"},{"row":"ID2","id":"IN-010","dx":"Aseptic"},{"row":"ID2","id":"IN-011","dx":"PJI"},{"row":"ID2","id":"IN-012","dx":"PJI"},{"row":"ID2","id":"IN-013","dx":"Aseptic"},{"row":"ID2","id":"IN-014","dx":"Aseptic"},{"row":"ID2","id":"IN-015","dx":"PJI"},{"row":"ID2","id":"IN-016","dx":"PJI"},{"row":"ID2","id":"IN-017","dx":"PJI"},{"row":"ID2","id":"IN-018","dx":"Aseptic"},{"row":"ID2","id":"IN-019","dx":"Aseptic"},{"row":"ID2","id":"IN-020","dx":"Aseptic"},{"row":"ID2","id":"IN-021","dx":"Aseptic"},{"row":"ID2","id":"IN-022","dx":"Aseptic"},{"row":"ID2","id":"IN-023","dx":"Aseptic"},{"row":"ID2","id":"IN-024","dx":"Aseptic"},{"row":"ID2","id":"IN-025","dx":"Aseptic"},{"row":"ID2","id":"IN-026","dx":"Aseptic"},{"row":"ID2","id":"IN-027","dx":"Aseptic"},{"row":"ID2","id":"IN-028","dx":"Aseptic"},
{"row":"ID3","id":"IN-001","dx":"PJI"},{"row":"ID3","id":"IN-002","dx":"PJI"},{"row":"ID3","id":"IN-003","dx":"PJI"},{"row":"ID3","id":"IN-004","dx":"PJI"},{"row":"ID3","id":"IN-005","dx":"PJI"},{"row":"ID3","id":"IN-006","dx":"PJI"},{"row":"ID3","id":"IN-007","dx":"PJI"},{"row":"ID3","id":"IN-008","dx":"PJI"},{"row":"ID3","id":"IN-009","dx":"PJI"},{"row":"ID3","id":"IN-010","dx":"PJI"},{"row":"ID3","id":"IN-011","dx":"Aseptic"},{"row":"ID3","id":"IN-012","dx":"Aseptic"},{"row":"ID3","id":"IN-013","dx":"PJI"},{"row":"ID3","id":"IN-014","dx":"PJI"},{"row":"ID3","id":"IN-015","dx":"PJI"},{"row":"ID3","id":"IN-016","dx":"Aseptic"},{"row":"ID3","id":"IN-017","dx":"Aseptic"},{"row":"ID3","id":"IN-018","dx":"Aseptic"},{"row":"ID3","id":"IN-019","dx":"Aseptic"},{"row":"ID3","id":"IN-020","dx":"Aseptic"},{"row":"ID3","id":"IN-021","dx":"Aseptic"},{"row":"ID3","id":"IN-022","dx":"Aseptic"},{"row":"ID3","id":"IN-023","dx":"Aseptic"},{"row":"ID3","id":"IN-024","dx":"Aseptic"},{"row":"ID3","id":"IN-025","dx":"Aseptic"},{"row":"ID3","id":"IN-026","dx":"Aseptic"},{"row":"ID3","id":"IN-027","dx":"Aseptic"},{"row":"ID3","id":"IN-028","dx":"Aseptic"},
{"row":"ID4","id":"IN-001","dx":"PJI"},{"row":"ID4","id":"IN-002","dx":"PJI"},{"row":"ID4","id":"IN-003","dx":"PJI"},{"row":"ID4","id":"IN-004","dx":"PJI"},{"row":"ID4","id":"IN-005","dx":"PJI"},{"row":"ID4","id":"IN-006","dx":"PJI"},{"row":"ID4","id":"IN-007","dx":"PJI"},{"row":"ID4","id":"IN-008","dx":"Aseptic"},{"row":"ID4","id":"IN-009","dx":"PJI"},{"row":"ID4","id":"IN-010","dx":"PJI"},{"row":"ID4","id":"IN-011","dx":"PJI"},{"row":"ID4","id":"IN-012","dx":"Aseptic"},{"row":"ID4","id":"IN-013","dx":"PJI"},{"row":"ID4","id":"IN-014","dx":"Aseptic"},{"row":"ID4","id":"IN-015","dx":"Aseptic"},{"row":"ID4","id":"IN-016","dx":"Aseptic"},{"row":"ID4","id":"IN-017","dx":"Aseptic"},{"row":"ID4","id":"IN-018","dx":"PJI"},{"row":"ID4","id":"IN-019","dx":"Aseptic"},{"row":"ID4","id":"IN-020","dx":"Aseptic"},{"row":"ID4","id":"IN-021","dx":"Aseptic"},{"row":"ID4","id":"IN-022","dx":"Aseptic"},{"row":"ID4","id":"IN-023","dx":"Aseptic"},{"row":"ID4","id":"IN-024","dx":"Aseptic"},{"row":"ID4","id":"IN-025","dx":"Aseptic"},{"row":"ID4","id":"IN-026","dx":"Aseptic"},{"row":"ID4","id":"IN-027","dx":"Aseptic"},{"row":"ID4","id":"IN-028","dx":"Aseptic"}
]
},
"hconcat": [
  {
    "data": {"name": "a"},
    "width": 1596,
    "height": 1346,
    "mark": {"type": "rect", "stroke": "white", "strokeWidth": 2, "strokeOpacity": 0.85},
    "encoding": {
      "x": {"field": "id", "type": "nominal", "sort": "ascending", "title": "(a)",
            "axis": {"labelAngle": -90, "labelFontSize": 36, "tickSize": 18, "labelPadding": 30, "titleFontSize": 48, "titlePadding": 26}},
      "y": {"field": "row", "type": "nominal", "title": null,
            "sort": ["Clinical diagnosis","SynTuition score","AS1","AS2","AS3","AS4","CS1","CS2","CS3","CS4","ID1","ID2","ID3","ID4"],
            "axis": {"labelFontSize": 53, "tickSize": 20, "labelPadding": 20, "labelLimit": 0}},
      "color": {"field": "dx", "type": "nominal",
                "scale": {"domain": ["Aseptic","Undecided","PJI"], "range": ["#1a9850","#fee08b","#4575b4"]},
                "legend": {"orient": "none", "legendX": 925, "legendY": -120, "direction": "horizontal", "title": null,
                           "symbolType": "M-1,-0.39L1,-0.39L1,0.39L-1,0.39Z", "symbolSize": 7396,
                           "symbolStrokeColor": "black", "symbolStrokeWidth": 2, "symbolOpacity": 1,
                           "labelFontSize": 42, "labelOffset": 31, "labelLimit": 0, "columnPadding": 84, "labelFont": "DejaVu Serif", "labelColor": "black"}}
    }
  },
  {
    "data": {"name": "b"},
    "width": 1471,
    "height": 1346,
    "mark": {"type": "rect", "stroke": "white", "strokeWidth": 2, "strokeOpacity": 0.85, "clip": true},
    "encoding": {
      "x": {"field": "id", "type": "nominal", "sort": "ascending", "title": "(b)",
            "scale": {"range": [0, 1490]},
            "axis": {"labelAngle": -90, "labelFontSize": 36, "tickSize": 18, "labelPadding": 30, "titleFontSize": 48, "titlePadding": 26}},
      "y": {"field": "row", "type": "nominal", "title": null,
            "sort": ["Clinical diagnosis","SynTuition score","AS1","AS2","AS3","AS4","CS1","CS2","CS3","CS4","ID1","ID2","ID3","ID4"],
            "axis": {"labels": false, "tickSize": 20}},
      "color": {"field": "dx", "type": "nominal"}
    }
  }
]
}
